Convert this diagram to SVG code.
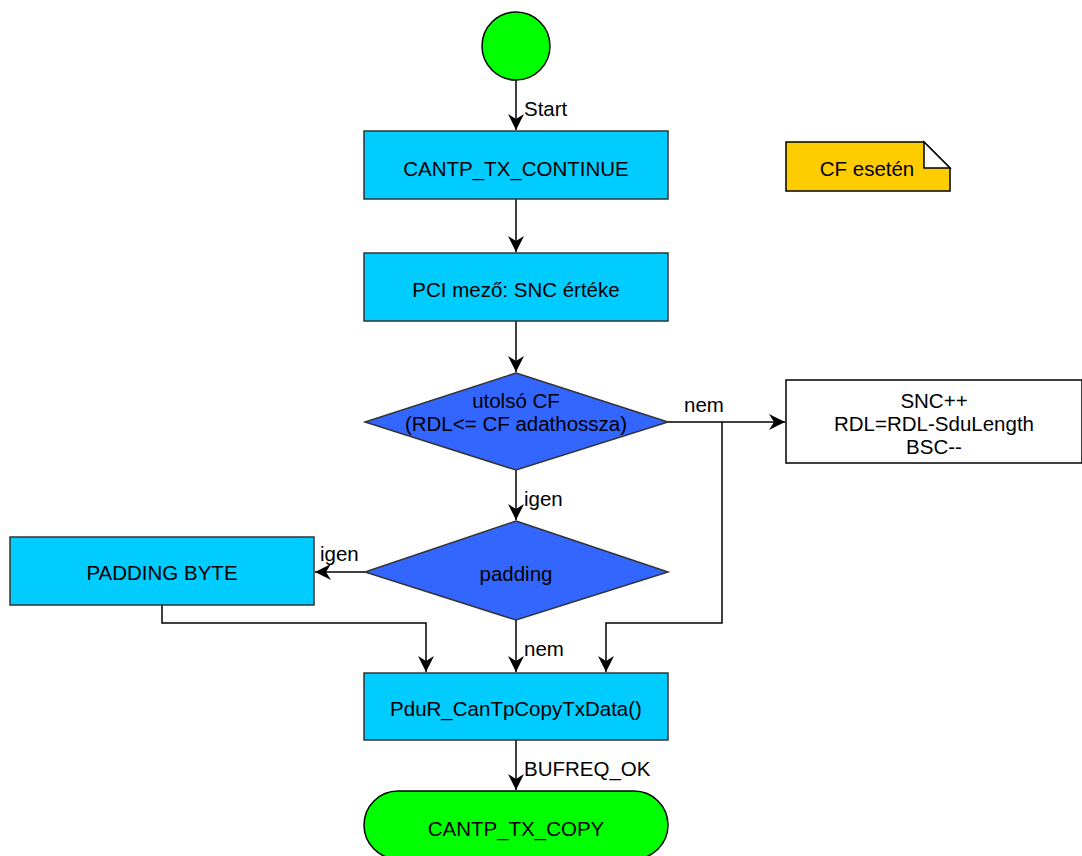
<svg xmlns="http://www.w3.org/2000/svg" width="1082" height="856" viewBox="0 0 1082 856">
  <style>
    text { font-family: "Liberation Sans", Arial, sans-serif; font-size: 20.5px; fill: #000; }
    .c { text-anchor: middle; dominant-baseline: central; }
    .proc { fill: #00CCFF; stroke: #333; stroke-width: 1.5; }
    .dec { fill: #3366FF; stroke: #333; stroke-width: 1.5; }
    .term { fill: #00FF00; stroke: #000; stroke-width: 1.5; }
    .plain { fill: #FFFFFF; stroke: #000; stroke-width: 1.5; }
    .note { fill: #FFCC00; stroke: #000; stroke-width: 1.5; }
    .edge { fill: none; stroke: #000; stroke-width: 1.5; }
  </style>
  <defs>
    <marker id="arrow" markerWidth="18" markerHeight="18" refX="16" refY="9" orient="auto" markerUnits="userSpaceOnUse">
      <path d="M0,1 L16,9 L0,17 L5,9 Z" fill="#000"/>
    </marker>
  </defs>

  <rect width="1082" height="856" fill="#FFFFFF"/>

  <!-- connectors -->
  <g id="connectors">
    <line class="edge" x1="516" y1="80" x2="516" y2="130" marker-end="url(#arrow)"/>
    <line class="edge" x1="516" y1="199" x2="516" y2="252" marker-end="url(#arrow)"/>
    <line class="edge" x1="516" y1="321" x2="516" y2="372" marker-end="url(#arrow)"/>
    <line class="edge" x1="668" y1="422" x2="785" y2="422" marker-end="url(#arrow)"/>
    <polyline class="edge" points="722,422 722,623 606,623 606,672" marker-end="url(#arrow)"/>
    <line class="edge" x1="516" y1="470" x2="516" y2="520" marker-end="url(#arrow)"/>
    <line class="edge" x1="365" y1="572" x2="315" y2="572" marker-end="url(#arrow)"/>
    <polyline class="edge" points="162,605 162,623 426,623 426,672" marker-end="url(#arrow)"/>
    <line class="edge" x1="516" y1="620" x2="516" y2="672" marker-end="url(#arrow)"/>
    <line class="edge" x1="516" y1="740" x2="516" y2="790" marker-end="url(#arrow)"/>
    <text x="524" y="108" dominant-baseline="central">Start</text>
    <text x="684" y="404" dominant-baseline="central">nem</text>
    <text x="524" y="498" dominant-baseline="central">igen</text>
    <text x="320" y="553" dominant-baseline="central">igen</text>
    <text x="524" y="648" dominant-baseline="central">nem</text>
    <text x="524" y="768" dominant-baseline="central">BUFREQ_OK</text>
  </g>

  <g id="start">
    <circle class="term" cx="516" cy="46" r="34"/>
  </g>

  <g id="tx-continue">
    <rect class="proc" x="364" y="131" width="304" height="68"/>
    <text class="c" x="516" y="168">CANTP_TX_CONTINUE</text>
  </g>

  <g id="note-cf">
    <path class="note" d="M786,142 L924,142 L950,168 L950,191 L786,191 Z"/>
    <path d="M924,142 L950,168 L924,168 Z" fill="#FFFFFF" stroke="#000" stroke-width="1.5"/>
    <text class="c" x="867" y="168">CF esetén</text>
  </g>

  <g id="pci">
    <rect class="proc" x="364" y="253" width="304" height="68"/>
    <text class="c" x="516" y="289">PCI mező: SNC értéke</text>
  </g>

  <g id="last-cf">
    <polygon class="dec" points="516,373 668,422 516,470 365,422"/>
    <text class="c" x="516" y="400">utolsó CF</text>
    <text class="c" x="516" y="423">(RDL&lt;= CF adathossza)</text>
  </g>

  <g id="snc-update">
    <rect class="plain" x="786" y="380" width="296" height="83"/>
    <text class="c" x="934" y="400">SNC++</text>
    <text class="c" x="934" y="423">RDL=RDL-SduLength</text>
    <text class="c" x="934" y="446">BSC--</text>
  </g>

  <g id="padding">
    <polygon class="dec" points="516,521 668,572 516,620 365,572"/>
    <text class="c" x="516" y="573">padding</text>
  </g>

  <g id="padding-byte">
    <rect class="proc" x="10" y="537" width="304" height="68"/>
    <text class="c" x="162" y="572">PADDING BYTE</text>
  </g>

  <g id="copy-tx-data">
    <rect class="proc" x="364" y="673" width="304" height="67"/>
    <text class="c" x="516" y="708">PduR_CanTpCopyTxData()</text>
  </g>

  <g id="tx-copy">
    <rect class="term" x="364" y="791" width="304" height="68" rx="34" ry="34"/>
    <text class="c" x="516" y="828">CANTP_TX_COPY</text>
  </g>
</svg>
